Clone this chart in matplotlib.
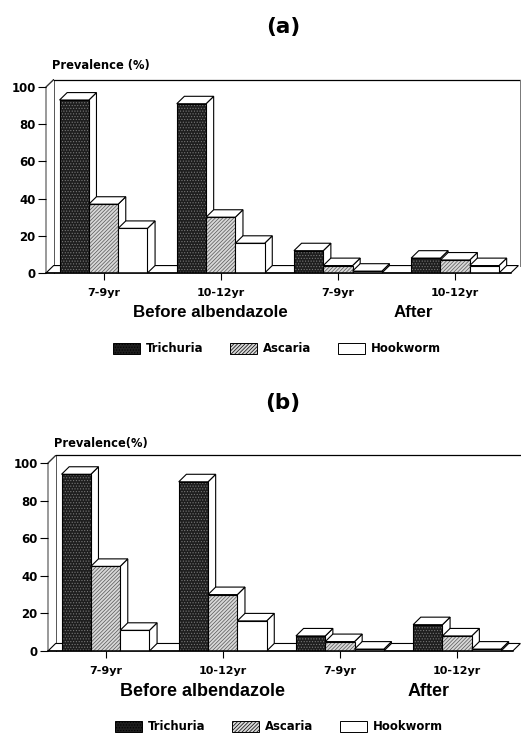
import matplotlib
matplotlib.use("Agg")
import matplotlib.pyplot as plt
from matplotlib.patches import Patch

plt.rcParams['font.family'] = ['DejaVu Sans']
plt.rcParams['hatch.linewidth'] = 0.5

W = 521
H = 733

groups = ["7-9yr", "10-12yr", "7-9yr", "10-12yr"]
series = ["Trichuria", "Ascaria", "Hookworm"]

trichuria_a = [93, 91, 12, 8]
ascaria_a = [37, 30, 4, 7]
hookworm_a = [24, 16, 1, 4]

trichuria_b = [94, 90, 8, 14]
ascaria_b = [45, 30, 5, 8]
hookworm_b = [11, 16, 1, 1]

yticks = [0, 20, 40, 60, 80, 100]

faces = ["#1e1e1e", "#d8d8d8", "white"]
hatches = ["......", "/////////", None]
hatch_cols = ["#777777", "#555555", "black"]

bw = 0.25
dx = 0.065
dy = 4.0


def panel(px_left, px_top, px_bottom, px_x0, px_step, vals, title, title_y, ylab, ylab_x, ylab_y,
          before_x, after_x, word_size, leg_y, leg_x, right_wall):
    # axes box from pixels, x is in group units, y in percent
    ax = fig.add_axes([px_left / W, 1 - px_bottom / H, (W - px_left) / W, (px_bottom - px_top) / H])
    ax.set_xlim((px_left - px_x0) / px_step, (W - px_x0) / px_step)
    ax.set_ylim(0, 100)
    x_left = ax.get_xlim()[0]
    x_right = ax.get_xlim()[1]
    x_end = 3 + 1.5 * bw + 0.1

    # back wall and floor
    ax.plot([x_left, x_left, x_left + dx, x_left], [0, 100, 100 + dy, 100], color="#333333", lw=0.7, clip_on=False, zorder=1)
    ax.plot([x_left + dx, x_left + dx], [0, 100 + dy], color="#555555", lw=0.7, clip_on=False, zorder=1)
    ax.plot([x_left + dx, x_right], [100 + dy, 100 + dy], color="black", lw=0.9, clip_on=False, zorder=1)
    if right_wall:
        ax.plot([x_right - 0.005, x_right - 0.005], [dy, 100 + dy], color="#777777", lw=0.7, clip_on=False, zorder=1)
    ax.fill([x_left, x_end, x_end + dx, x_left + dx], [0, 0, dy, dy], fc="white", ec="black", lw=0.8, clip_on=False, zorder=1)

    # bars left to right so each front hides the side of the one before
    z = 2
    for g in range(len(groups)):
        for s in range(len(series)):
            x = g + (s - 1.5) * bw
            v = vals[s][g]
            ax.fill([x + bw, x + bw + dx, x + bw + dx, x + bw], [0, dy, v + dy, v], fc="white", ec="black", lw=0.8, zorder=z, clip_on=False)
            ax.fill([x, x + dx, x + bw + dx, x + bw], [v, v + dy, v + dy, v], fc="white", ec="black", lw=0.8, zorder=z, clip_on=False)
            ax.bar(x, v, bw, align="edge", color=faces[s], edgecolor=hatch_cols[s], hatch=hatches[s], lw=0, zorder=z)
            ax.bar(x, v, bw, align="edge", fill=False, edgecolor="black", lw=0.8, zorder=z)
            z += 1

    for sp in ["top", "right", "left"]:
        ax.spines[sp].set_visible(False)
    ax.spines["bottom"].set_linewidth(1.1)
    ax.spines["bottom"].set_bounds(x_left, x_end)
    ax.spines["bottom"].set_zorder(50)
    ax.patch.set_alpha(0)

    ax.set_yticks(yticks)
    ax.set_yticklabels([str(t) for t in yticks], fontsize=8.5, fontweight="bold")
    ax.tick_params(axis="y", length=6, width=0.8, pad=1.5)
    ax.set_xticks(range(len(groups)))
    ax.set_xticklabels(groups, fontsize=8, fontweight="bold")
    ax.tick_params(axis="x", length=5, width=0.8, pad=6)

    fig.text(283 / W, 1 - title_y / H, title, fontsize=15.5, fontweight="bold", ha="center", va="center")
    fig.text(ylab_x / W, 1 - ylab_y / H, ylab, fontsize=8.3, fontweight="bold", va="center")
    fig.text(before_x / W, 1 - (px_bottom + 40) / H, "Before albendazole", fontsize=word_size, fontweight="bold",
             family="Liberation Sans", ha="center", va="center")
    fig.text(after_x / W, 1 - (px_bottom + 40) / H, "After", fontsize=word_size, fontweight="bold",
             family="Liberation Sans", ha="center", va="center")

    handles = [Patch(facecolor=faces[i], edgecolor="black", hatch=hatches[i], lw=0.7) for i in range(3)]
    fig.legend(handles, series, loc="center left", bbox_to_anchor=(leg_x / W, 1 - leg_y / H), ncol=3, frameon=False,
               prop={"size": 8.4, "weight": "bold"}, handlelength=2.3, handleheight=1.05, handletextpad=0.5, columnspacing=2.3,
               borderaxespad=0, borderpad=0)
    return ax


fig = plt.figure(figsize=(W / 100, H / 100), dpi=100)

panel(46, 87, 273, 103.5, 117.2, [trichuria_a, ascaria_a, hookworm_a], "(a)", 27, "Prevalence (%)", 52, 66,
      210, 413, 12.2, 349, 113, True)
panel(48, 463, 651, 105.5, 117.2, [trichuria_b, ascaria_b, hookworm_b], "(b)", 403, "Prevalence(%)", 54, 444,
      202.5, 429, 13, 727, 115, False)

fig.savefig("out.png", dpi=100)
